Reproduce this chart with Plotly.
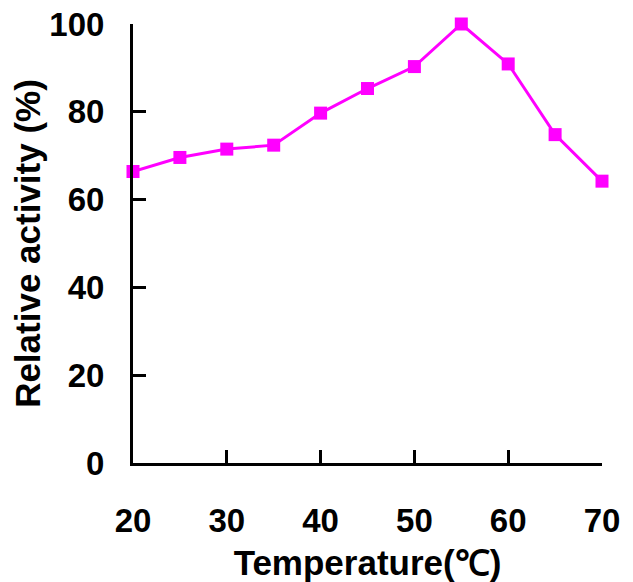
import plotly.graph_objects as go

temperature = [20, 25, 30, 35, 40, 45, 50, 55, 60, 65, 70]
relative_activity = [66.4, 69.6, 71.5, 72.4, 79.7, 85.3, 90.3, 100.0, 90.9, 74.8, 64.2]

x_ticks = [20, 30, 40, 50, 60, 70]
y_ticks = [0, 20, 40, 60, 80, 100]

FONT = "Liberation Sans, Arial, sans-serif"

fig = go.Figure()
fig.add_trace(go.Scatter(
    x=temperature, y=relative_activity,
    mode="lines+markers",
    line=dict(color="#FF00FF", width=3),
    marker=dict(symbol="square", size=13, color="#FF00FF"),
    cliponaxis=False,
    showlegend=False,
))

fig.update_layout(
    width=633, height=582,
    margin=dict(l=125, r=39, t=16, b=127),
    paper_bgcolor="white", plot_bgcolor="white",
    font=dict(family=FONT, color="black", size=33),
)
fig.update_xaxes(
    range=[20, 70], tickvals=x_ticks,
    showgrid=False, zeroline=False, automargin=False,
    showline=True, linecolor="black", linewidth=3,
    ticks="inside", ticklen=13, tickwidth=3, tickcolor="black",
    tickfont=dict(family=FONT, size=33, weight="bold"),
    ticklabelstandoff=26, ticklabeloverflow="allow",
    title=dict(text="<b>Temperature(℃)</b>", font=dict(family=FONT, size=35), standoff=13),
)
fig.update_yaxes(
    range=[0, 100], tickvals=y_ticks,
    showgrid=False, zeroline=False, automargin=False,
    showline=True, linecolor="black", linewidth=3,
    ticks="inside", ticklen=13, tickwidth=3, tickcolor="black",
    tickfont=dict(family=FONT, size=33, weight="bold"),
    ticklabelstandoff=19, ticklabeloverflow="allow",
    title=dict(text="<b>Relative activity (%)</b>", font=dict(family=FONT, size=35), standoff=0),
)

fig.write_html("out.html")
